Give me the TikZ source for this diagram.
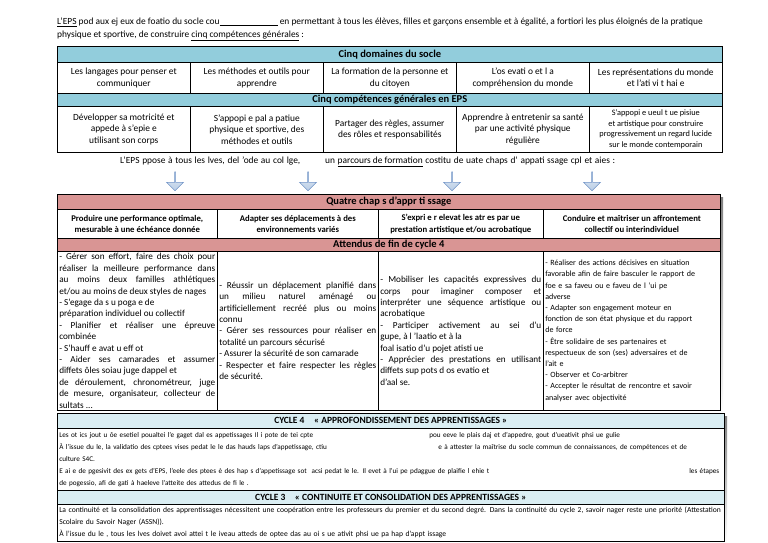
\documentclass[tikz,border=0pt]{standalone}
\usepackage{fontspec}
\setmainfont{Carlito}
\usepackage{xcolor}
\usepackage{tikz}
\usetikzlibrary{positioning,shapes.arrows}
\definecolor{ink}{HTML}{000000}
\definecolor{headblue}{HTML}{92CDDC}
\definecolor{headpink}{HTML}{D99594}
\definecolor{headpale}{HTML}{DAEEF3}
\definecolor{arrowtop}{HTML}{E4ECF7}
\definecolor{arrowbottom}{HTML}{B9CDE5}
\definecolor{arrowline}{HTML}{6F93C6}
\definecolor{shade}{HTML}{C8C8C8}
\tikzset{
  plaintext/.style={anchor=west,inner sep=0pt,align=left,font=\fontsize{9.4}{11}\selectfont},
  cell/.style={draw=ink,fill=white,line width=0.6pt,anchor=north west,inner sep=2pt,align=center,
    font=\fontsize{9.4}{11.5}\selectfont},
  headcell/.style={cell,inner sep=1pt,font=\fontsize{10.5}{12}\selectfont\bfseries},
  fieldcell/.style={cell,font=\fontsize{8.7}{11.5}\selectfont\bfseries},
  goalcell/.style={cell,align=justify,font=\fontsize{9.2}{11.4}\selectfont},
  cyclehead/.style={cell,inner sep=1pt,fill=headpale,font=\fontsize{9.5}{10}\selectfont\bfseries},
  cycletext/.style={cell,align=left,inner sep=2pt,font=\fontsize{7.2}{12}\selectfont},
  downarrow/.style={single arrow,shape border rotate=270,draw=arrowline,line width=0.5pt,
    top color=arrowtop,bottom color=arrowbottom,minimum height=19pt,minimum width=17pt,
    single arrow head extend=4pt,inner sep=0pt}
}

\begin{document}
\begin{tikzpicture}[x=1pt,y=-1pt]
\useasboundingbox (0,0) rectangle (768,543);
% introduction
\node[plaintext] (introA) at (57,22) {\underline{L'EPS} pod aux ej eux de foatio du socle cou\underline{\hspace{58pt}} en permettant à tous les élèves, filles et garçons ensemble et à égalité, a fortiori les plus éloignés de la pratique};
\node[plaintext] (introB) at (57,36) {physique et sportive, de construire \underline{cinq compétences générales} :};
% socle et competences
\node[headcell,fill=headblue,minimum width=665pt,minimum height=16pt] (domhead) at (57,46) {Cinq domaines du socle};
\node[cell,minimum width=133pt,minimum height=31pt] (domA) at (57,62) {Les langages pour penser et\\communiquer};
\node[cell,minimum width=133pt,minimum height=31pt] (domB) at (190,62) {Les méthodes et outils pour\\apprendre};
\node[cell,minimum width=133pt,minimum height=31pt] (domC) at (323,62) {La formation de la personne et\\du citoyen};
\node[cell,minimum width=133pt,minimum height=31pt] (domD) at (456,62) {L'os evati o et l a\\compréhension du monde};
\node[cell,minimum width=133pt,minimum height=31pt] (domE) at (589,62) {Les représentations du monde\\et l'ati vi t hai e};
\node[headcell,fill=headblue,minimum width=665pt,minimum height=13pt] (comphead) at (57,93) {Cinq compétences générales en EPS};
\node[cell,minimum width=133pt,minimum height=46pt] (compA) at (57,106) {Développer sa motricité et\\appede à s'epie e\hspace{22pt}\\utilisant son corps};
\node[cell,minimum width=133pt,minimum height=46pt] (compB) at (190,106) {S'appopi e pal a patiue\hspace{10pt}\\physique et sportive, des\\méthodes et outils};
\node[cell,minimum width=133pt,minimum height=46pt] (compC) at (323,106) {Partager des règles, assumer\\des rôles et responsabilités};
\node[cell,minimum width=133pt,minimum height=46pt] (compD) at (456,106) {Apprendre à entretenir sa santé\\par une activité physique\\régulière};
\node[cell,minimum width=133pt,minimum height=46pt,font=\fontsize{8.3}{10.5}\selectfont] (compE) at (589,106) {S'appopi e ueul t ue pisiue\hspace{12pt}\\et artistique pour construire\\progressivement un regard lucide\\sur le monde contemporain};
\node[plaintext] (parcours) at (120,162) {\makebox[495pt][s]{L'EPS ppose à tous les lves, del 'ode au col lge,\hspace{22pt} un \underline{parcours de formation} costitu de uate chaps d' appati ssage cpl et aies :}};
% fleches
\node[downarrow] (arrA) at (175,181) {};
\node[downarrow] (arrB) at (308,181) {};
\node[downarrow] (arrC) at (452,181) {};
\node[downarrow] (arrD) at (592,181) {};
% champs d'apprentissage
\fill[shade] (60,197) rectangle (723,413);
\node[headcell,fill=headpink,minimum width=663pt,minimum height=15pt] (fieldhead) at (57,194) {Quatre chap s d'appr ti ssage};
\node[fieldcell,minimum width=160pt,minimum height=29pt] (fieldA) at (57,209) {Produire une performance optimale,\\mesurable à une échéance donnée};
\node[fieldcell,minimum width=161pt,minimum height=29pt] (fieldB) at (217,209) {Adapter ses déplacements à des\\environnements variés};
\node[fieldcell,minimum width=165pt,minimum height=29pt] (fieldC) at (378,209) {S'expri e r elevat les atr es par ue\\prestation artistique et/ou acrobatique};
\node[fieldcell,minimum width=177pt,minimum height=29pt] (fieldD) at (543,209) {Conduire et maîtriser un affrontement\\collectif ou interindividuel};
\node[headcell,fill=headpink,minimum width=663pt,minimum height=13pt] (goalhead) at (57,238) {Attendus de fin de cycle 4};
\node[goalcell,minimum width=160pt,minimum height=159pt,text width=156pt] (goalA) at (57,251) {- Gérer son effort, faire des choix pour\linebreak réaliser la meilleure performance dans\linebreak au moins deux familles athlétiques\linebreak et/ou au moins de deux styles de nages\\- S'egage da s u poga e de\\préparation individuel ou collectif\\- Planifier et réaliser une épreuve\linebreak combinée\\- S'hauff e avat u eff ot\\- Aider ses camarades et assumer\linebreak diffets ôles soiau juge dappel et\\de déroulement, chronométreur, juge\linebreak de mesure, organisateur, collecteur de\linebreak sultats ...};
\node[goalcell,minimum width=161pt,minimum height=159pt,text width=157pt] (goalB) at (217,251) {- Réussir un déplacement planifié dans\linebreak un milieu naturel aménagé ou\linebreak artificiellement recréé plus ou moins\linebreak connu\\- Gérer ses ressources pour réaliser en\linebreak totalité un parcours sécurisé\\- Assurer la sécurité de son camarade\\- Respecter et faire respecter les règles\linebreak de sécurité.};
\node[goalcell,minimum width=165pt,minimum height=159pt,text width=161pt] (goalC) at (378,251) {- Mobiliser les capacités expressives du\linebreak corps pour imaginer composer et\linebreak interpréter une séquence artistique ou\linebreak acrobatique\\- Participer activement au sei d'u\linebreak gupe, à l 'laatio et à la\\foal isatio d'u pojet atisti ue\\- Apprécier des prestations en utilisant\linebreak diffets sup pots d os evatio et\\d'aal se.};
\node[goalcell,align=left,minimum width=177pt,minimum height=159pt,text width=173pt,font=\fontsize{8}{11.2}\selectfont] (goalD) at (543,251) {- Réaliser des actions décisives en situation\\favorable afin de faire basculer le rapport de\\foe e sa faveu ou e faveu de l 'ui pe\\adverse\\- Adapter son engagement moteur en\\fonction de son état physique et du rapport\\de force\\- Être solidaire de ses partenaires et\\respectueux de son (ses) adversaires et de\\l'ait e\\- Observer et Co-arbitrer\\- Accepter le résultat de rencontre et savoir\\analyser avec objectivité};
% cycles
\fill[shade] (60,416) rectangle (727,544);
\node[cyclehead,minimum width=667pt,minimum height=15pt] (cyclefour) at (57,413) {CYCLE 4\quad « APPROFONDISSEMENT DES APPRENTISSAGES »};
\node[cycletext,minimum width=667pt,minimum height=62pt,text width=663pt] (cyclefourtext) at (57,428) {\makebox[297pt][s]{Les ot ics jout u ôe esetiel poualtei l'e gaget dal es appetissages Il i pote de tei cpte}\hspace{73pt}\makebox[211pt][s]{pou eeve le plais daj et d'appedre, gout d'ueativit phsi ue gulie}\\\makebox[297pt][s]{À l'issue du le, la validatio des cptees vises pedat le le das hauds laps d'appetissage, ctiu}\hspace{82pt}\makebox[256pt][s]{e à attester la maîtrise du socle commun de connaissances, de compétences et de}\\culture S4C.\\\makebox[490pt][s]{E ai e de pgesivit des ex gets d'EPS, l'eele des ptees è des hap s d'appetissage sot\ \ acsi pedat le le. Il evet à l'ui pe pdaggue de plaifie l ehie t}\hspace{140pt}les étapes\\\makebox[232pt][s]{de pogessio, afi de gati à haeleve l'atteite des attedus de fi le .}};
\node[cyclehead,minimum width=667pt,minimum height=14pt] (cyclethree) at (57,490) {CYCLE 3\quad « CONTINUITE ET CONSOLIDATION DES APPRENTISSAGES »};
\node[cycletext,minimum width=667pt,minimum height=37pt,text width=663pt,font=\fontsize{7.6}{12}\selectfont] (cyclethreetext) at (57,504) {La continuité et la consolidation des apprentissages nécessitent une coopération entre les professeurs du premier et du second degré. Dans la continuité du cycle 2, savoir nager reste une priorité (Attestation\\Scolaire du Savoir Nager (ASSN)).\\\makebox[380pt][s]{À l'issue du le , tous les lves doivet avoi attei t le iveau atteds de optee das au oi s ue ativit phsi ue pa hap d'appt issage}};
\end{tikzpicture}
\end{document}
